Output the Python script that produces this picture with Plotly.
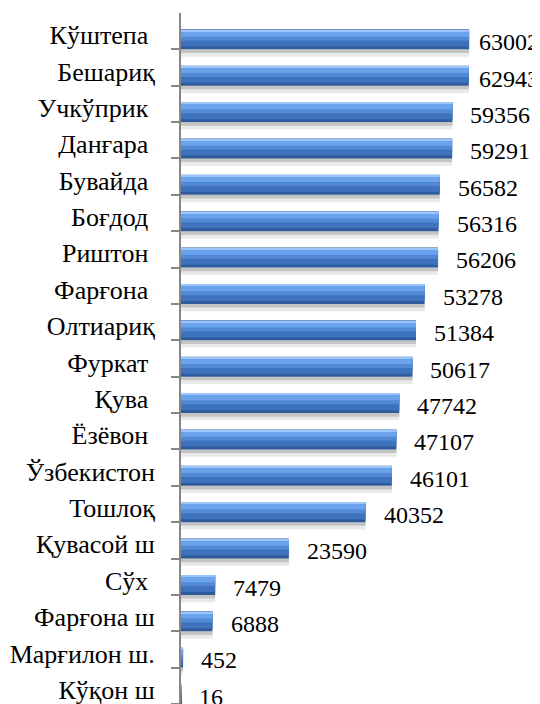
import plotly.graph_objects as go

# Data (top to bottom as in the reference)
categories = ["Кўштепа", "Бешариқ", "Учкўприк", "Данғара", "Бувайда", "Боғдод",
              "Риштон", "Фарғона", "Олтиариқ", "Фуркат", "Қува", "Ёзёвон",
              "Ўзбекистон", "Тошлоқ", "Қувасой ш", "Сўх", "Фарғона ш",
              "Марғилон ш.", "Кўқон ш"]
values = [63002, 62943, 59356, 59291, 56582, 56316, 56206, 53278, 51384, 50617,
          47742, 47107, 46101, 40352, 23590, 7479, 6888, 452, 16]
# labels as displayed (trailing spaces as in the original)
tick_labels = ["Кўштепа\u00a0", "Бешариқ", "Учкўприк\u00a0", "Данғара\u00a0",
               "Бувайда\u00a0", "Боғдод\u00a0", "Риштон\u00a0", "Фарғона\u00a0",
               "Олтиариқ", "Фуркат\u00a0", "Қува\u00a0", "Ёзёвон\u00a0",
               "Ўзбекистон", "Тошлоқ", "Қувасой ш", "Сўх\u00a0", "Фарғона ш",
               "Марғилон ш.", "Кўқон ш"]

# the page body has an 8px margin, so the figure is 8px smaller each way
W, H = 532, 696
ML, MR, MT, MB = 173, 0, 5, 0
XMAX = 78500
FONT = "Liberation Serif, Times New Roman, serif"
FS_VAL = 24
FS_CAT = 26

cats_bottom_up = categories[::-1]

fig = go.Figure()

def layer(color, offset, width):
    fig.add_trace(go.Bar(
        x=values, y=categories, orientation="h",
        marker=dict(color=color, line=dict(width=0)),
        offset=offset, width=width, hoverinfo="skip", showlegend=False))

# shadow
layer("#e9e9e9", -0.70, 0.20)
layer("#c4c4c4", -0.60, 0.10)
# bar body (bottom-aligned within each band)
layer("#2f5b9c", -0.50, 0.55)
layer("#3f72bd", -0.42, 0.44)
layer("#5189d6", -0.26, 0.28)
layer("#6aa3ec", -0.15, 0.17)
layer("#9cc6fb", -0.00, 0.04)

scale = (W - ML - MR) / XMAX
annotations = []
for c, v in zip(categories, values):
    bar_end = ML + v * scale
    est_w = len(str(v)) * 0.5 * FS_VAL
    shift = min(16, 529 - bar_end - est_w)
    annotations.append(dict(
        x=v, y=c, xref="x", yref="y", text=str(v), showarrow=False,
        xanchor="left", yanchor="middle", xshift=shift, yshift=-11,
        font=dict(family=FONT, size=FS_VAL, color="#000000")))

fig.update_layout(
    width=W, height=H,
    margin=dict(l=ML, r=MR, t=MT, b=MB, pad=0, autoexpand=False),
    barmode="overlay",
    paper_bgcolor="white", plot_bgcolor="white",
    annotations=annotations,
    xaxis=dict(range=[0, XMAX], visible=False, fixedrange=True, automargin=False),
    yaxis=dict(
        type="category", categoryorder="array", categoryarray=cats_bottom_up,
        tickmode="array", tickvals=categories, ticktext=tick_labels,
        tickson="boundaries", ticks="outside", ticklen=8, tickwidth=2,
        tickcolor="#868686", showline=True, linecolor="#868686", linewidth=2,
        showgrid=False, zeroline=False, ticklabelshift=4, ticklabelstandoff=19,
        automargin=False,
        tickfont=dict(family=FONT, size=FS_CAT, color="#000000"),
        range=[-0.5, len(categories) - 0.5], fixedrange=True),
)

fig.write_html("out.html")
